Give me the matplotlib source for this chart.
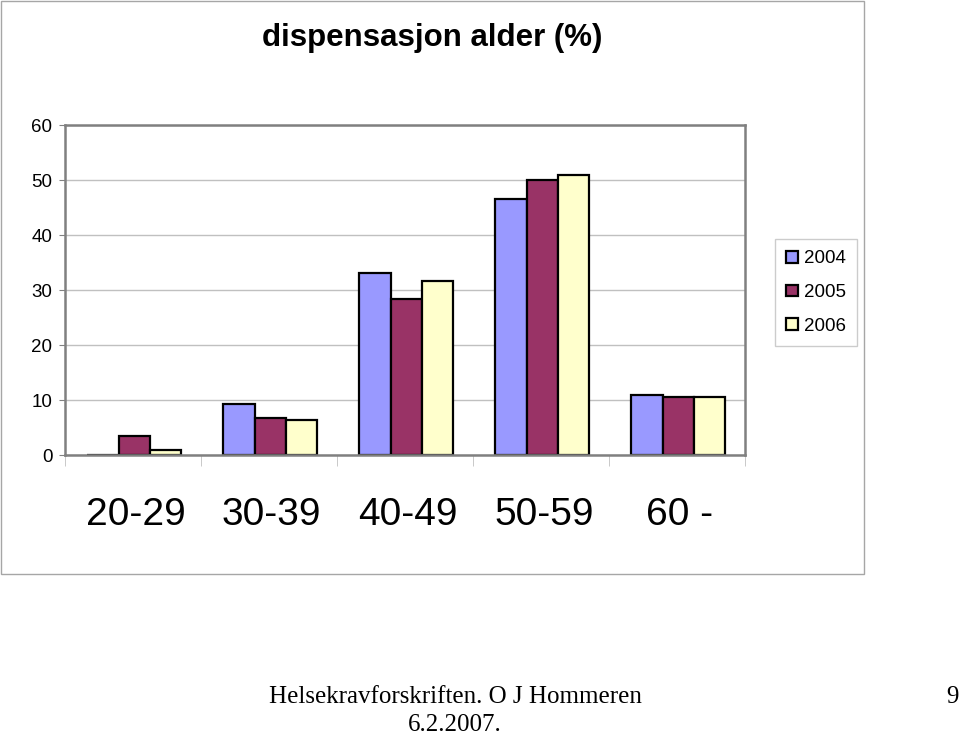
import numpy as np
import matplotlib.pyplot as plt
from matplotlib.patches import Rectangle

aldersgrupper = ["20-29", "30-39", "40-49", "50-59", "60 -"]
aar = ["2004", "2005", "2006"]
verdier_2004 = [0.0, 9.2, 33.1, 46.6, 11.0]
verdier_2005 = [3.4, 6.7, 28.3, 50.0, 10.5]
verdier_2006 = [1.0, 6.3, 31.7, 50.9, 10.5]
farger = ["#9999FF", "#993366", "#FFFFCC"]

plt.rcParams['font.family'] = ['Liberation Sans', 'DejaVu Sans']

fig = plt.figure(figsize=(9.6, 7.36), dpi=100)

# ramme rundt diagrammet
fig.patches.append(Rectangle((1 / 960, 1 - 574 / 736), 863 / 960, 573 / 736,
                             transform=fig.transFigure, fill=False,
                             edgecolor="#a6a6a6", lw=1.0))

ax = fig.add_axes([65 / 960, 1 - 455 / 736, 680 / 960, 330 / 736])

x = np.arange(len(aldersgrupper))
b = 0.23
for i, (serie, farge) in enumerate(zip([verdier_2004, verdier_2005, verdier_2006], farger)):
    ax.bar(x + (i - 1) * b + 0.01, serie, width=b, color=farge, edgecolor="black",
           linewidth=1.6, label=aar[i], zorder=2)

ax.set_xlim(-0.5, 4.5)
ax.set_ylim(0, 60)
ax.set_yticks(range(0, 61, 10))
ax.yaxis.grid(True, color="#c0c0c0", lw=1.0, zorder=0)
ax.tick_params(axis="y", labelsize=13.5, length=4, color="#808080", pad=5)

ax.set_xticks(x + 0.02)
ax.set_xticklabels(aldersgrupper, fontsize=28)
ax.set_xticks(np.arange(-0.5, 5, 1), minor=True)
ax.tick_params(axis="x", which="major", length=0, pad=30)
ax.tick_params(axis="x", which="minor", length=8, color="#c0c0c0")

for s in ax.spines.values():
    s.set_color("#808080")
    s.set_linewidth(1.8)
    s.set_zorder(2.5)

fig.text(432 / 960, 1 - 38 / 736, "dispensasjon alder (%)", fontsize=22.5,
         fontweight="bold", ha="center", va="center")

fig.legend(loc="upper left", bbox_to_anchor=(775 / 960, 1 - 239 / 736),
           fontsize=13.5, frameon=True, fancybox=False, edgecolor="#c0c0c0",
           handlelength=0.6, handleheight=0.6, handletextpad=0.35,
           labelspacing=0.9, borderpad=0.6, borderaxespad=0)

fig.text(455 / 960, 1 - 697 / 736, "Helsekravforskriften. O J Hommeren",
         fontsize=18, family="Liberation Serif", ha="center", va="center")
fig.text(455 / 960, 1 - 725 / 736, "6.2.2007.", fontsize=18,
         family="Liberation Serif", ha="center", va="center")
fig.text(952 / 960, 1 - 697 / 736, "9", fontsize=18,
         family="Liberation Serif", ha="center", va="center")

fig.savefig("out.png", dpi=100)
